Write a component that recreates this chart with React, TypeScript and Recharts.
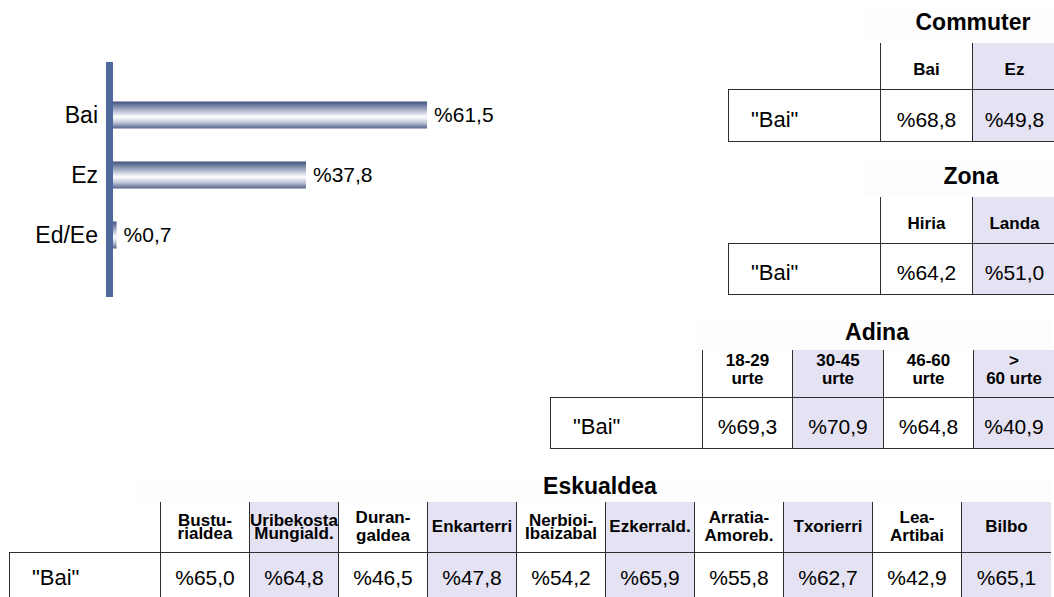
import React from 'react';
import { BarChart, Bar, XAxis, YAxis, LabelList } from 'recharts';

// ---------- data ----------
const barCategories = ['Bai', 'Ez', 'Ed/Ee'];
const barValues = [61.5, 37.8, 0.7];

const rowLabel = '"Bai"';

const commuterTitle = 'Commuter';
const commuterHeaders = ['Bai', 'Ez'];
const commuterValues = [68.8, 49.8];

const zonaTitle = 'Zona';
const zonaHeaders = ['Hiria', 'Landa'];
const zonaValues = [64.2, 51.0];

const adinaTitle = 'Adina';
const adinaHeaders = ['18-29\nurte', '30-45\nurte', '46-60\nurte', '>\n60 urte'];
const adinaValues = [69.3, 70.9, 64.8, 40.9];

const eskualdeaTitle = 'Eskualdea';
const eskualdeaHeaders = [
  'Bustu-\nrialdea',
  'Uribekosta\nMungiald.',
  'Duran-\ngaldea',
  'Enkarterri',
  'Nerbioi-\nIbaizabal',
  'Ezkerrald.',
  'Arratia-\nAmoreb.',
  'Txorierri',
  'Lea-\nArtibai',
  'Bilbo',
];
const eskualdeaValues = [65.0, 64.8, 46.5, 47.8, 54.2, 65.9, 55.8, 62.7, 42.9, 65.1];
const tightHeaders = ['Bustu-\nrialdea', 'Uribekosta\nMungiald.', 'Nerbioi-\nIbaizabal'];

const barData = barCategories.map((name, i) => ({ name, value: barValues[i] }));

const fmt = (v: number) => '%' + v.toFixed(1).replace('.', ',');

const FONT = '"Liberation Sans", Arial, Helvetica, sans-serif';
const LINE = '1px solid #2e2e2e';
const LAVENDER = '#E5E3F3';

type TableProps = {
  title: string;
  titleCx: number;
  titleCy: number;
  titleBg: { left: number; top: number; width: number; height: number };
  left: number;
  top: number;
  labelW: number;
  colWs: number[];
  headerH: number;
  rowH: number;
  headers: string[];
  values: number[];
  headerShift: number;
  valueShift: number;
};

function DataTable(p: TableProps) {
  const xs: number[] = [];
  let acc = p.left + p.labelW;
  p.colWs.forEach((w) => {
    xs.push(acc);
    acc += w;
  });
  const rowTop = p.top + p.headerH;
  return (
    <>
      <div
        style={{
          position: 'absolute',
          left: p.titleBg.left,
          top: p.titleBg.top,
          width: p.titleBg.width,
          height: p.titleBg.height,
          background: '#fdfdfd',
        }}
      />
      <div
        style={{
          position: 'absolute',
          left: p.titleCx - 150,
          top: p.titleCy - 15,
          width: 300,
          height: 30,
          display: 'flex',
          alignItems: 'center',
          justifyContent: 'center',
          fontWeight: 'bold',
          fontSize: 23,
          color: '#000',
        }}
      >
        {p.title}
      </div>
      {p.headers.map((h, i) => {
        const tight = tightHeaders.includes(h);
        return (
          <div
            key={'h' + i}
            style={{
              position: 'absolute',
              left: xs[i],
              top: p.top,
              width: p.colWs[i],
              height: p.headerH,
              boxSizing: 'border-box',
              borderLeft: LINE,
              background: i % 2 === 1 ? LAVENDER : 'transparent',
              display: 'flex',
              alignItems: 'center',
              justifyContent: 'center',
              paddingTop: p.headerShift > 0 ? p.headerShift : 0,
              paddingBottom: p.headerShift < 0 ? -p.headerShift : 0,
              fontWeight: 'bold',
              fontSize: 17,
              lineHeight: tight ? '13px' : '18px',
              whiteSpace: 'pre',
              textAlign: 'center',
              color: '#000',
            }}
          >
            {h}
          </div>
        );
      })}
      <div
        style={{
          position: 'absolute',
          left: p.left,
          top: rowTop,
          width: p.labelW,
          height: p.rowH,
          boxSizing: 'border-box',
          borderTop: LINE,
          borderBottom: LINE,
          borderLeft: LINE,
          display: 'flex',
          alignItems: 'center',
          paddingLeft: 22,
          paddingTop: p.valueShift,
          fontSize: 22,
          color: '#000',
        }}
      >
        {rowLabel}
      </div>
      {p.values.map((v, i) => (
        <div
          key={'v' + i}
          style={{
            position: 'absolute',
            left: xs[i],
            top: rowTop,
            width: p.colWs[i],
            height: p.rowH,
            boxSizing: 'border-box',
            borderTop: LINE,
            borderBottom: LINE,
            borderLeft: LINE,
            background: i % 2 === 1 ? LAVENDER : '#fff',
            display: 'flex',
            alignItems: 'center',
            justifyContent: 'center',
            paddingTop: p.valueShift,
            fontSize: 21,
            color: '#000',
          }}
        >
          {fmt(v)}
        </div>
      ))}
    </>
  );
}

export default function App() {
  return (
    <div
      style={{
        position: 'absolute',
        left: 0,
        top: 0,
        width: 1054,
        height: 597,
        overflow: 'hidden',
        background: '#fff',
        fontFamily: FONT,
      }}
    >
      <div style={{ position: 'absolute', left: 0, top: 0 }}>
        <BarChart
          width={530}
          height={320}
          data={barData}
          layout="vertical"
          margin={{ top: 62, right: 8.5, bottom: 23, left: 0 }}
        >
          <defs>
            <linearGradient id="barGradient" x1="0" y1="0" x2="0" y2="1">
              <stop offset="0%" stopColor="#42517b" />
              <stop offset="12%" stopColor="#67759a" />
              <stop offset="35%" stopColor="#b6bdd1" />
              <stop offset="57%" stopColor="#ffffff" />
              <stop offset="78%" stopColor="#bfc6d8" />
              <stop offset="100%" stopColor="#55638b" />
            </linearGradient>
          </defs>
          <XAxis type="number" hide domain={[-0.685, 80]} />
          <YAxis
            type="category"
            dataKey="name"
            width={109.5}
            padding={{ top: 22.5, bottom: 32.5 }}
            axisLine={{ stroke: '#4E6A9E', strokeWidth: 7 }}
            tickLine={false}
            tickSize={6}
            tickMargin={5.5}
            tick={{ fill: '#000', fontSize: 23, fontFamily: FONT }}
          />
          <Bar dataKey="value" fill="url(#barGradient)" barSize={27} isAnimationActive={false}>
            <LabelList
              dataKey="value"
              position="right"
              offset={7}
              formatter={(v: any) => fmt(Number(v))}
              style={{ fill: '#000', fontSize: 21, fontFamily: FONT }}
            />
          </Bar>
        </BarChart>
      </div>

      <DataTable
        title={commuterTitle}
        titleCx={973}
        titleCy={22}
        titleBg={{ left: 863, top: 8, width: 191, height: 34 }}
        left={728}
        top={43}
        labelW={152}
        colWs={[92, 84]}
        headerH={46}
        rowH={53}
        headers={commuterHeaders}
        values={commuterValues}
        headerShift={8}
        valueShift={8}
      />
      <DataTable
        title={zonaTitle}
        titleCx={971}
        titleCy={176.5}
        titleBg={{ left: 863, top: 162, width: 191, height: 35 }}
        left={728}
        top={197}
        labelW={152}
        colWs={[92, 84]}
        headerH={46}
        rowH={52}
        headers={zonaHeaders}
        values={zonaValues}
        headerShift={8}
        valueShift={8}
      />
      <DataTable
        title={adinaTitle}
        titleCx={877}
        titleCy={332.5}
        titleBg={{ left: 697, top: 318, width: 355, height: 32 }}
        left={550}
        top={350}
        labelW={152}
        colWs={[90, 91, 90, 81]}
        headerH={47}
        rowH={52}
        headers={adinaHeaders}
        values={adinaValues}
        headerShift={-8}
        valueShift={8}
      />
      <DataTable
        title={eskualdeaTitle}
        titleCx={600}
        titleCy={486}
        titleBg={{ left: 138, top: 478, width: 914, height: 24 }}
        left={9}
        top={502}
        labelW={151}
        colWs={[89, 89, 89, 89, 89, 89, 89, 89, 89, 90]}
        headerH={50}
        rowH={52}
        headers={eskualdeaHeaders}
        values={eskualdeaValues}
        headerShift={0}
        valueShift={0}
      />
    </div>
  );
}
